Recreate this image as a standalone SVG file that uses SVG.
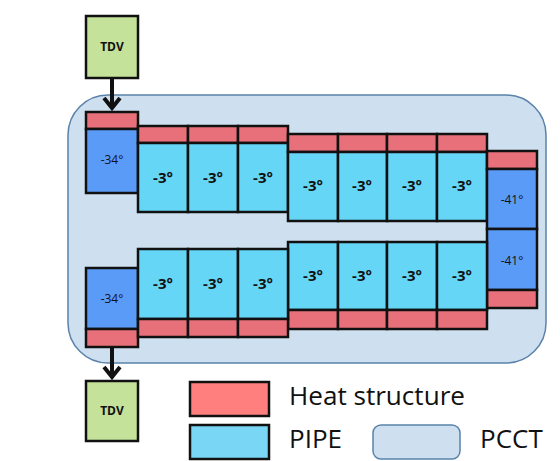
<svg xmlns="http://www.w3.org/2000/svg" width="560" height="461" viewBox="0 0 560 461">
<defs>
<style>
.hs{fill:#E8707A;stroke:#111;stroke-width:2.5}
.pp{fill:#66D6F7;stroke:#111;stroke-width:2.5}
.db{fill:#5B9BF8;stroke:#111;stroke-width:2.5}
.tdv{fill:#C5E29B;stroke:#111;stroke-width:2.5}
.t3{font-family:"Open Sans","Noto Sans",sans-serif;font-size:15px;font-weight:bold;fill:#111;text-anchor:middle}
.t34{font-family:"Open Sans","Noto Sans",sans-serif;font-size:12px;fill:#111;text-anchor:middle}
.lg{font-family:"Open Sans","Noto Sans",sans-serif;font-size:26px;fill:#111}
.ar{fill:none;stroke:#111;stroke-width:4}
</style>
</defs>
<rect width="560" height="461" fill="#fff"/>
<g id="pcct"><rect x="68" y="95" width="478" height="268" rx="40" fill="#CEE0F0" stroke="#5A82AA" stroke-width="1.5"/></g>
<g id="tdv-top"><rect class="tdv" x="86" y="16" width="52" height="62"/><text class="t34" x="112" y="51" font-weight="bold">TDV</text></g>
<g id="tdv-bottom"><rect class="tdv" x="86" y="381" width="52" height="60"/><text class="t34" x="112" y="415" font-weight="bold">TDV</text></g>
<g id="left-top">
<rect class="hs" x="86" y="112" width="52" height="17"/>
<rect class="db" x="86" y="129" width="52" height="64"/><text class="t34" x="112" y="164">-34°</text>
</g>
<g id="left-bottom">
<rect class="db" x="86" y="268" width="52" height="61"/><text class="t34" x="112" y="303">-34°</text>
<rect class="hs" x="86" y="329" width="52" height="18"/>
</g>
<g id="top-row-1">
<rect class="hs" x="138" y="126" width="50" height="17"/><rect class="hs" x="188" y="126" width="50" height="17"/><rect class="hs" x="238" y="126" width="50" height="17"/>
<rect class="pp" x="138" y="143" width="50" height="69"/><rect class="pp" x="188" y="143" width="50" height="69"/><rect class="pp" x="238" y="143" width="50" height="69"/>
<text class="t3" x="163" y="183">-3°</text><text class="t3" x="213" y="183">-3°</text><text class="t3" x="263" y="183">-3°</text>
</g>
<g id="top-row-2">
<rect class="hs" x="288" y="134" width="50" height="18"/><rect class="hs" x="338" y="134" width="49" height="18"/><rect class="hs" x="387" y="134" width="50" height="18"/><rect class="hs" x="437" y="134" width="50" height="18"/>
<rect class="pp" x="288" y="152" width="50" height="69"/><rect class="pp" x="338" y="152" width="49" height="69"/><rect class="pp" x="387" y="152" width="50" height="69"/><rect class="pp" x="437" y="152" width="50" height="69"/>
<text class="t3" x="313" y="191">-3°</text><text class="t3" x="362" y="191">-3°</text><text class="t3" x="412" y="191">-3°</text><text class="t3" x="462" y="191">-3°</text>
</g>
<g id="right">
<rect class="hs" x="487" y="151" width="50" height="18"/>
<rect class="db" x="487" y="169" width="50" height="60"/><text class="t34" x="512" y="204">-41°</text>
<rect class="db" x="487" y="229" width="50" height="61"/><text class="t34" x="512" y="265">-41°</text>
<rect class="hs" x="487" y="290" width="50" height="18"/>
</g>
<g id="bottom-row-2">
<rect class="pp" x="288" y="242" width="50" height="68"/><rect class="pp" x="338" y="242" width="49" height="68"/><rect class="pp" x="387" y="242" width="50" height="68"/><rect class="pp" x="437" y="242" width="50" height="68"/>
<text class="t3" x="313" y="281">-3°</text><text class="t3" x="362" y="281">-3°</text><text class="t3" x="412" y="281">-3°</text><text class="t3" x="462" y="281">-3°</text>
<rect class="hs" x="288" y="310" width="50" height="19"/><rect class="hs" x="338" y="310" width="49" height="19"/><rect class="hs" x="387" y="310" width="50" height="19"/><rect class="hs" x="437" y="310" width="50" height="19"/>
</g>
<g id="bottom-row-1">
<rect class="pp" x="138" y="249" width="50" height="70"/><rect class="pp" x="188" y="249" width="50" height="70"/><rect class="pp" x="238" y="249" width="50" height="70"/>
<text class="t3" x="163" y="289">-3°</text><text class="t3" x="213" y="289">-3°</text><text class="t3" x="263" y="289">-3°</text>
<rect class="hs" x="138" y="319" width="50" height="18"/><rect class="hs" x="188" y="319" width="50" height="18"/><rect class="hs" x="238" y="319" width="50" height="18"/>
</g>
<g id="connectors">
<line class="ar" x1="112" y1="78" x2="112" y2="108"/><polyline class="ar" points="104,98 112,108 120,98"/>
<line class="ar" x1="112" y1="347" x2="112" y2="377"/><polyline class="ar" points="104,367 112,377 120,367"/>
</g>
<g id="legend">
<rect x="190" y="382" width="79" height="34" fill="#FF7F7F" stroke="#111" stroke-width="2.5"/>
<text class="lg" x="289" y="405" textLength="176" lengthAdjust="spacingAndGlyphs">Heat structure</text>
<rect x="190" y="425" width="79" height="34" fill="#7AD6F5" stroke="#111" stroke-width="2.5"/>
<text class="lg" x="289" y="448">PIPE</text>
<rect x="373" y="425" width="87" height="34" rx="8" fill="#CEE0F0" stroke="#5A82AA" stroke-width="1.5"/>
<text class="lg" x="480" y="448">PCCT</text>
</g>
</svg>
